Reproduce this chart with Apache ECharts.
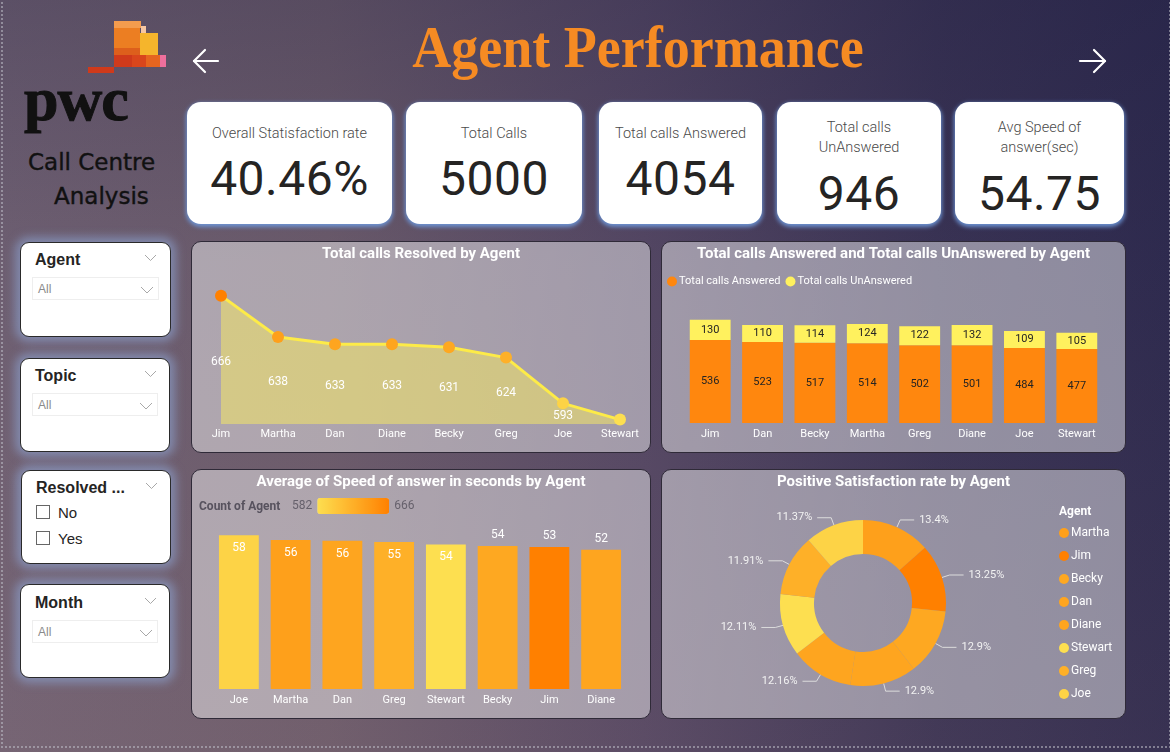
<!DOCTYPE html>
<html>
<head>
<meta charset="utf-8">
<script src="https://cdn.jsdelivr.net/npm/echarts@6/dist/echarts.min.js"></script>
<style>
html,body{margin:0;padding:0;width:1170px;height:752px;overflow:hidden;}
body{position:relative;font-family:Roboto,'Open Sans',sans-serif;
 background:
  linear-gradient(180deg, rgba(25,25,60,0.28) 0%, rgba(25,25,60,0.08) 35%, rgba(130,100,100,0.10) 100%),
  linear-gradient(90deg, #756576 0%, #705f6e 28%, #584a66 55%, #3c3556 80%, #302c50 100%);}
.frame{position:absolute;left:1px;top:-2px;width:1166px;height:748px;border-left:2px dotted rgba(190,190,200,0.55);border-right:2px dotted rgba(190,190,200,0.55);border-bottom:2px dotted rgba(190,190,200,0.55);}
.abs{position:absolute;}
.kpi{position:absolute;top:102px;height:122px;background:#fff;border-radius:14px;box-shadow:0 2px 4px 1px rgba(110,150,215,0.95);color:#252423;text-align:center;}
.kpi .lbl{position:absolute;left:0;right:0;font-size:14.5px;font-weight:300;line-height:20px;color:#4a4a4a;}
.kpi .val{position:absolute;left:0;right:0;font-size:48px;line-height:56px;font-weight:400;color:#252423;letter-spacing:0.5px;}
.panel{position:absolute;border:1px solid #2f2a38;border-radius:10px;background:rgba(255,255,255,0.45);box-sizing:border-box;}
.slicer{position:absolute;background:#fff;border:1px solid #2a2a2a;border-radius:9px;box-shadow:0 0 10px 5px rgba(140,160,205,0.65);box-sizing:border-box;}
.stitle{position:absolute;font-family:'Liberation Sans',Arial,sans-serif;font-weight:bold;font-size:16px;line-height:20px;color:#252423;}
.chev{position:absolute;}
.dd{position:absolute;border:1px solid #eeeeee;box-sizing:border-box;font-family:'Liberation Sans',Arial,sans-serif;font-size:12px;color:#8a8a8a;line-height:23px;padding-left:5px;}
.cb{position:absolute;width:14px;height:14px;border:1px solid #666;box-sizing:border-box;}
.cbt{position:absolute;font-family:'Liberation Sans',Arial,sans-serif;font-size:15px;color:#252423;line-height:18px;}
.blk{position:absolute;}
</style>
</head>
<body>
<div class="frame"></div>

<!-- PwC logo blocks -->
<div class="blk" style="left:114px;top:21px;width:27px;height:7px;background:#f39c4e;"></div>
<div class="blk" style="left:141px;top:26px;width:5px;height:7px;background:#f6c7a2;"></div>
<div class="blk" style="left:114px;top:28px;width:26px;height:20px;background:#ec7e22;"></div>
<div class="blk" style="left:114px;top:48px;width:26px;height:7px;background:#dd5f1c;"></div>
<div class="blk" style="left:140px;top:33px;width:18px;height:22px;background:#f5b52c;"></div>
<div class="blk" style="left:114px;top:55px;width:18px;height:12px;background:#cf3a1b;"></div>
<div class="blk" style="left:132px;top:55px;width:14px;height:12px;background:#d9461c;"></div>
<div class="blk" style="left:146px;top:55px;width:14px;height:12px;background:#e6651f;"></div>
<div class="blk" style="left:160px;top:55px;width:6px;height:12px;background:#ee6f9c;"></div>
<div class="blk" style="left:88px;top:67px;width:26px;height:6px;background:#cf3a1b;"></div>
<div class="abs" style="left:24px;top:67px;font-family:'Liberation Serif','Times New Roman',serif;font-weight:bold;font-size:62px;line-height:64px;color:#111;letter-spacing:-1px;-webkit-text-stroke:1px #111;">pwc</div>
<div class="abs" style="left:28px;top:147px;font-family:'DejaVu Sans',sans-serif;font-size:23px;line-height:30px;color:#111;-webkit-text-stroke:0.4px #111;">Call Centre</div>
<div class="abs" style="left:54px;top:181px;font-family:'DejaVu Sans',sans-serif;font-size:23px;line-height:30px;color:#111;-webkit-text-stroke:0.4px #111;">Analysis</div>

<!-- arrows -->
<svg class="abs" style="left:0;top:0" width="1170" height="100">
 <g fill="none" stroke="#ffffff" stroke-width="2.2" stroke-linecap="round" stroke-linejoin="round">
  <line x1="194" y1="61" x2="218" y2="61"/><polyline points="205,50 194,61 205,72"/>
  <line x1="1080" y1="61" x2="1105" y2="61"/><polyline points="1094,50 1105,61 1094,72"/>
 </g>
</svg>

<!-- title -->
<div class="abs" style="left:338px;top:17px;width:600px;text-align:center;font-family:'Liberation Serif','Times New Roman',serif;font-weight:bold;font-size:60px;line-height:60px;color:#f68b23;transform:scaleX(0.9);">Agent Performance</div>

<!-- KPI cards -->
<div class="kpi" style="left:187px;width:205px;"><div class="lbl" style="top:22px;">Overall Statisfaction rate</div><div class="val" style="top:49px;">40.46%</div></div>
<div class="kpi" style="left:406px;width:176px;"><div class="lbl" style="top:22px;">Total Calls</div><div class="val" style="top:49px;">5000</div></div>
<div class="kpi" style="left:599px;width:163px;"><div class="lbl" style="top:22px;">Total calls Answered</div><div class="val" style="top:49px;">4054</div></div>
<div class="kpi" style="left:777px;width:164px;"><div class="lbl" style="top:16px;">Total calls<br>UnAnswered</div><div class="val" style="top:64px;">946</div></div>
<div class="kpi" style="left:955px;width:169px;"><div class="lbl" style="top:16px;">Avg Speed of<br>answer(sec)</div><div class="val" style="top:64px;">54.75</div></div>

<!-- slicers -->
<div class="slicer" style="left:20px;top:242px;width:151px;height:95px;">
 <div class="stitle" style="left:14px;top:7px;">Agent</div>
 <svg class="chev" style="left:123px;top:11px" width="13" height="8"><polyline points="1,1 6.5,6.5 12,1" fill="none" stroke="#a8a8a8" stroke-width="1"/></svg>
 <div class="dd" style="left:11px;top:34px;width:127px;height:23px;">All<svg style="position:absolute;left:107px;top:8px" width="14" height="8"><polyline points="1,1 7,7 13,1" fill="none" stroke="#a8a8a8" stroke-width="1"/></svg></div>
</div>
<div class="slicer" style="left:20px;top:358px;width:150px;height:94px;">
 <div class="stitle" style="left:14px;top:7px;">Topic</div>
 <svg class="chev" style="left:123px;top:11px" width="13" height="8"><polyline points="1,1 6.5,6.5 12,1" fill="none" stroke="#a8a8a8" stroke-width="1"/></svg>
 <div class="dd" style="left:11px;top:34px;width:126px;height:23px;">All<svg style="position:absolute;left:106px;top:8px" width="14" height="8"><polyline points="1,1 7,7 13,1" fill="none" stroke="#a8a8a8" stroke-width="1"/></svg></div>
</div>
<div class="slicer" style="left:21px;top:470px;width:150px;height:94px;">
 <div class="stitle" style="left:14px;top:7px;">Resolved ...</div>
 <svg class="chev" style="left:123px;top:11px" width="13" height="8"><polyline points="1,1 6.5,6.5 12,1" fill="none" stroke="#a8a8a8" stroke-width="1"/></svg>
 <div class="cb" style="left:14px;top:34px;"></div><div class="cbt" style="left:36px;top:33px;">No</div>
 <div class="cb" style="left:14px;top:60px;"></div><div class="cbt" style="left:36px;top:59px;">Yes</div>
</div>
<div class="slicer" style="left:20px;top:584px;width:150px;height:94px;">
 <div class="stitle" style="left:14px;top:8px;">Month</div>
 <svg class="chev" style="left:123px;top:12px" width="13" height="8"><polyline points="1,1 6.5,6.5 12,1" fill="none" stroke="#a8a8a8" stroke-width="1"/></svg>
 <div class="dd" style="left:11px;top:35px;width:126px;height:23px;">All<svg style="position:absolute;left:106px;top:8px" width="14" height="8"><polyline points="1,1 7,7 13,1" fill="none" stroke="#a8a8a8" stroke-width="1"/></svg></div>
</div>

<!-- chart panels -->
<div id="c1" class="panel" style="left:191px;top:241px;width:460px;height:212px;"></div>
<div id="c2" class="panel" style="left:661px;top:241px;width:465px;height:212px;"></div>
<div id="c3" class="panel" style="left:191px;top:469px;width:460px;height:250px;"></div>
<div id="c4" class="panel" style="left:661px;top:469px;width:465px;height:250px;"></div>

<script>
// ---------------- data ----------------
const resolvedAgents = ['Jim', 'Martha', 'Dan', 'Diane', 'Becky', 'Greg', 'Joe', 'Stewart'];
const resolvedCalls  = [666, 638, 633, 633, 631, 624, 593, 582];

const callAgents      = ['Jim', 'Dan', 'Becky', 'Martha', 'Greg', 'Diane', 'Joe', 'Stewart'];
const answeredCalls   = [536, 523, 517, 514, 502, 501, 484, 477];
const unansweredCalls = [130, 110, 114, 124, 122, 132, 109, 105];

const speedAgents  = ['Joe', 'Martha', 'Dan', 'Greg', 'Stewart', 'Becky', 'Jim', 'Diane'];
const speedSeconds = [57.9, 56.1, 55.8, 55.3, 54.4, 53.8, 53.4, 52.4];

const satAgents = ['Martha', 'Jim', 'Becky', 'Dan', 'Diane', 'Stewart', 'Greg', 'Joe'];
const satShare  = [13.4, 13.25, 12.9, 12.9, 12.16, 12.11, 11.91, 11.37];

const countLegendName = 'Count of Agent';

// -------------- helpers ---------------
const FONT = 'Roboto, "Open Sans", sans-serif';
const countByAgent = {};
resolvedAgents.forEach((a, i) => { countByAgent[a] = resolvedCalls[i]; });
const countMin = Math.min(...resolvedCalls);
const countMax = Math.max(...resolvedCalls);
const LOW = [253, 223, 80], HIGH = [255, 128, 0];
function colorFor(v) {
  const t = (v - countMin) / (countMax - countMin);
  const c = LOW.map((l, k) => Math.round(l + (HIGH[k] - l) * t));
  return 'rgb(' + c.join(',') + ')';
}
const titleStyle = { color: '#ffffff', fontSize: 15, fontWeight: 'bold', fontFamily: FONT };

// -------------- chart 1 ---------------
const c1 = echarts.init(document.getElementById('c1'));
const y1Min = 579, y1Max = 680;
c1.setOption({
  animation: false,
  title: { text: 'Total calls Resolved by Agent', left: 'center', top: 5, padding: 0, textStyle: titleStyle },
  grid: { left: 29, right: 30, top: 33, bottom: 28 },
  xAxis: {
    type: 'category', data: resolvedAgents, boundaryGap: false,
    axisLine: { show: false }, axisTick: { show: false },
    axisLabel: { color: '#ffffff', fontSize: 11, fontFamily: FONT, margin: 5 }
  },
  yAxis: { type: 'value', min: y1Min, max: y1Max, show: false, splitLine: { show: false } },
  series: [
    {
      type: 'line',
      data: resolvedCalls.map(v => ({ value: v, itemStyle: { color: colorFor(v) } })),
      symbol: 'circle', symbolSize: 12,
      lineStyle: { color: '#fdeb48', width: 3 },
      areaStyle: { color: 'rgba(250,236,95,0.50)', opacity: 1 },
      z: 3
    },
    {
      type: 'custom',
      data: resolvedCalls.map((v, i) => [i, v]),
      encode: { x: 0, y: 1 },
      renderItem: function (params, api) {
        const p = api.coord([api.value(0), api.value(1)]);
        const b = api.coord([api.value(0), y1Min]);
        if (b[1] - p[1] < 12) return null;
        return {
          type: 'text', x: p[0], y: (p[1] + b[1]) / 2 + 2,
          style: { text: String(api.value(1)), fill: '#ffffff', font: '12px ' + FONT, align: 'center', verticalAlign: 'middle' }
        };
      },
      z: 5
    }
  ]
});

// -------------- chart 2 ---------------
const c2 = echarts.init(document.getElementById('c2'));
const barLabel = { show: true, position: 'inside', color: '#252423', fontSize: 11, fontFamily: FONT };
c2.setOption({
  animation: false,
  title: { text: 'Total calls Answered and Total calls UnAnswered by Agent', left: 'center', top: 5, padding: 0, textStyle: titleStyle },
  legend: {
    left: 5, top: 34, padding: 0, icon: 'circle', itemWidth: 10, itemHeight: 10, itemGap: 5,
    textStyle: { color: '#ffffff', fontSize: 11, fontFamily: FONT, padding: [0, 0, 0, -3] },
    data: ['Total calls Answered', 'Total calls UnAnswered']
  },
  grid: { left: 22, right: 22, top: 57, bottom: 29 },
  xAxis: {
    type: 'category', data: callAgents,
    axisLine: { show: false }, axisTick: { show: false },
    axisLabel: { color: '#ffffff', fontSize: 11, fontFamily: FONT, margin: 6 }
  },
  yAxis: { type: 'value', min: 0, max: 800, show: false, splitLine: { show: false } },
  series: [
    { name: 'Total calls Answered', type: 'bar', stack: 'calls', data: answeredCalls, barCategoryGap: '22%',
      itemStyle: { color: '#ff870e' }, label: barLabel },
    { name: 'Total calls UnAnswered', type: 'bar', stack: 'calls', data: unansweredCalls, barCategoryGap: '22%',
      itemStyle: { color: '#fff15e' }, label: barLabel }
  ]
});

// -------------- chart 3 ---------------
const c3 = echarts.init(document.getElementById('c3'));
c3.setOption({
  animation: false,
  title: [
    { text: 'Average of Speed of answer in seconds by Agent', left: 'center', top: 5, padding: 0, textStyle: titleStyle },
    { text: countLegendName, left: 7, top: 31, padding: 0, textStyle: { color: '#57525e', fontSize: 12, fontWeight: 'bold', fontFamily: FONT } }
  ],
  visualMap: {
    type: 'continuous', dimension: 2, seriesIndex: 0,
    min: countMin, max: countMax, orient: 'horizontal',
    left: 100, top: 28, itemWidth: 16, itemHeight: 72, padding: 0,
    text: [String(countMax), String(countMin)], textGap: 5, calculable: false, hoverLink: false,
    textStyle: { color: '#66616c', fontSize: 12, fontFamily: FONT },
    inRange: { color: ['rgb(253,223,80)', 'rgb(255,128,0)'] }
  },
  grid: { left: 21, right: 23, top: 33, bottom: 29 },
  xAxis: {
    type: 'category', data: speedAgents,
    axisLine: { show: false }, axisTick: { show: false },
    axisLabel: { color: '#ffffff', fontSize: 11, fontFamily: FONT, margin: 6 }
  },
  yAxis: { type: 'value', min: 0, max: 70, show: false, splitLine: { show: false } },
  series: [{
    type: 'bar', barCategoryGap: '23%',
    encode: { x: 0, y: 1 },
    data: speedAgents.map((a, i) => ({
      value: [a, speedSeconds[i], countByAgent[a]],
      label: i < 5 ? { position: 'insideTop', distance: 7 } : { position: 'top', distance: 5 }
    })),
    label: { show: true, color: '#ffffff', fontSize: 12, fontFamily: FONT, formatter: p => String(Math.round(p.value[1])) }
  }]
});

// -------------- chart 4 ---------------
const c4 = echarts.init(document.getElementById('c4'));
c4.setOption({
  animation: false,
  title: [
    { text: 'Positive Satisfaction rate by Agent', left: 'center', top: 5, padding: 0, textStyle: titleStyle },
    { text: 'Agent', left: 397, top: 36, padding: 0, textStyle: { color: '#ffffff', fontSize: 12, fontWeight: 'bold', fontFamily: FONT } }
  ],
  legend: {
    orient: 'vertical', left: 397, top: 56, padding: 0, icon: 'circle', itemWidth: 10, itemHeight: 10, itemGap: 9,
    textStyle: { color: '#ffffff', fontSize: 12, fontFamily: FONT, padding: [0, 0, 0, -3], lineHeight: 14, height: 14 },
    data: satAgents
  },
  series: [{
    type: 'pie', center: [201, 133], radius: [49, 83], startAngle: 90, clockwise: true,
    data: satAgents.map((a, i) => ({ name: a, value: satShare[i], itemStyle: { color: colorFor(countByAgent[a]) } })),
    label: { show: true, position: 'outside', color: '#f2f2f2', fontSize: 11, fontFamily: FONT, formatter: p => p.value + '%' },
    labelLine: { show: true, length: 8, length2: 14, lineStyle: { color: '#dcdcdc', width: 1 } }
  }]
});
</script>
</body>
</html>
